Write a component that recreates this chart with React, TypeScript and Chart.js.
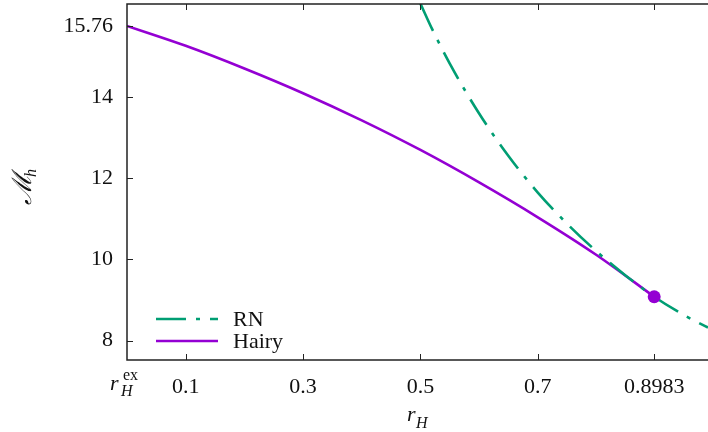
import React, { useEffect, useRef } from 'react';
import { Chart, registerables } from 'chart.js';
Chart.register(...registerables);

const hairyR = [0, 0.1, 0.2, 0.3, 0.4, 0.5, 0.6, 0.7, 0.8, 0.8983];
const hairyM = [15.76, 15.27, 14.71, 14.1, 13.43, 12.7, 11.9, 11.04, 10.11, 9.08];
const rnR = [0.5, 0.52, 0.55, 0.6, 0.65, 0.7, 0.75, 0.8, 0.85, 0.8983, 0.95, 0.99];
const rnM = [16.31, 15.68, 14.83, 13.6, 12.55, 11.65, 10.88, 10.2, 9.6, 9.08, 8.62, 8.32];
const endR = [0.8983];
const endM = [9.08];
const xTicks = [0, 0.1, 0.3, 0.5, 0.7, 0.8983];
const xTickLabels = ['', '0.1', '0.3', '0.5', '0.7', '0.8983'];
const yTicks = [8, 10, 12, 14, 15.76];
const yTickLabels = ['8', '10', '12', '14', '15.76'];
const seriesNames = ['RN', 'Hairy'];

const GREEN = '#009e73';
const PURPLE = '#9400d3';
const AXIS = '#222222';
const FONT = 'Liberation Serif';
const DASH = [30, 10, 4, 10];

export default function App() {
  const ref = useRef<HTMLCanvasElement>(null);
  useEffect(() => {
    const canvas = ref.current!;
    const decor = {
      id: 'decor',
      afterDraw(chart: any) {
        const ctx = chart.ctx as CanvasRenderingContext2D;
        const { left, right, top, bottom } = chart.chartArea;
        const xs = chart.scales.x;
        const ys = chart.scales.y;
        ctx.save();
        // frame
        ctx.strokeStyle = AXIS;
        ctx.lineWidth = 1.5;
        ctx.setLineDash([]);
        ctx.beginPath();
        ctx.moveTo(right, top);
        ctx.lineTo(left, top);
        ctx.lineTo(left, bottom);
        ctx.lineTo(right, bottom);
        ctx.stroke();
        // ticks
        ctx.lineWidth = 1;
        ctx.beginPath();
        xTicks.forEach((v) => {
          if (v === 0) return;
          const px = Math.round(xs.getPixelForValue(v)) + 0.5;
          ctx.moveTo(px, bottom);
          ctx.lineTo(px, bottom - 6);
          ctx.moveTo(px, top);
          ctx.lineTo(px, top + 6);
        });
        yTicks.forEach((v) => {
          const py = Math.round(ys.getPixelForValue(v)) + 0.5;
          ctx.moveTo(left, py);
          ctx.lineTo(left + 6, py);
        });
        ctx.stroke();
        // legend
        const lx0 = 156, lx1 = 218;
        const rows = [
          { y: 319, color: GREEN, dash: DASH, name: seriesNames[0] },
          { y: 341, color: PURPLE, dash: [], name: seriesNames[1] },
        ];
        rows.forEach((r) => {
          ctx.strokeStyle = r.color;
          ctx.lineWidth = 2.6;
          ctx.setLineDash(r.dash);
          ctx.beginPath();
          ctx.moveTo(lx0, r.y);
          ctx.lineTo(lx1, r.y);
          ctx.stroke();
          ctx.setLineDash([]);
          ctx.fillStyle = '#111';
          ctx.font = `22px "${FONT}"`;
          ctx.textAlign = 'left';
          ctx.textBaseline = 'middle';
          ctx.fillText(r.name, 233, r.y + 1);
        });
        // r_H^ex tick label at x = 0
        ctx.fillStyle = '#111';
        ctx.textBaseline = 'alphabetic';
        ctx.textAlign = 'left';
        ctx.font = `italic 22px "${FONT}"`;
        ctx.fillText('r', 110, 390);
        ctx.font = `italic 16px "${FONT}"`;
        ctx.fillText('H', 121, 396);
        ctx.font = `16px "${FONT}"`;
        ctx.fillText('ex', 123, 380);
        // x axis title r_H
        ctx.font = `italic 22px "${FONT}"`;
        ctx.fillText('r', 407, 421);
        ctx.font = `italic 16px "${FONT}"`;
        ctx.fillText('H', 416, 428);
        // y axis title M_h (rotated)
        ctx.translate(31, 185);
        ctx.rotate(-Math.PI / 2);
        ctx.font = `italic 27px "DejaVu Serif"`;
        ctx.textAlign = 'left';
        ctx.fillText('\u2133', -20, 0);
        ctx.font = `italic 16px "${FONT}"`;
        ctx.fillText('h', 8, 5);
        ctx.restore();
      },
    };
    const zeroPad = (s: any) => {
      s.paddingTop = 0;
      s.paddingBottom = 0;
      s.paddingLeft = 0;
      s.paddingRight = 0;
    };
    const chart = new Chart(canvas, {
      type: 'scatter',
      data: {
        datasets: [
          {
            label: 'end',
            data: endR.map((r, i) => ({ x: r, y: endM[i] })),
            showLine: false,
            pointRadius: 6.5,
            pointBackgroundColor: PURPLE,
            pointBorderWidth: 0,
          },
          {
            label: seriesNames[0],
            data: rnR.map((r, i) => ({ x: r, y: rnM[i] })),
            showLine: true,
            borderColor: GREEN,
            borderWidth: 2.6,
            borderDash: DASH,
            pointRadius: 0,
            cubicInterpolationMode: 'monotone',
            fill: false,
          },
          {
            label: seriesNames[1],
            data: hairyR.map((r, i) => ({ x: r, y: hairyM[i] })),
            showLine: true,
            borderColor: PURPLE,
            borderWidth: 2.6,
            pointRadius: 0,
            cubicInterpolationMode: 'monotone',
            fill: false,
          },
        ],
      },
      options: {
        animation: false,
        responsive: false,
        maintainAspectRatio: false,
        layout: { autoPadding: false, padding: { top: 4, left: 0, right: 0, bottom: 0 } },
        plugins: { legend: { display: false }, tooltip: { enabled: false } },
        scales: {
          x: {
            type: 'linear',
            min: 0,
            max: 0.99,
            afterBuildTicks: (s: any) => {
              s.ticks = xTicks.map((v) => ({ value: v }));
            },
            afterFit: (s: any) => {
              s.height = 72;
              zeroPad(s);
            },
            grid: { display: false, drawTicks: false },
            border: { display: false },
            ticks: {
              autoSkip: false,
              maxRotation: 0,
              minRotation: 0,
              padding: 14,
              color: '#111',
              font: { family: FONT, size: 22 },
              callback: (v: any) => xTickLabels[xTicks.indexOf(Number(v))] ?? '',
            },
          },
          y: {
            type: 'linear',
            min: 7.52,
            max: 16.3,
            afterBuildTicks: (s: any) => {
              s.ticks = yTicks.map((v) => ({ value: v }));
            },
            afterFit: (s: any) => {
              s.width = 127;
              zeroPad(s);
            },
            grid: { display: false, drawTicks: false },
            border: { display: false },
            ticks: {
              autoSkip: false,
              padding: 14,
              color: '#111',
              font: { family: FONT, size: 22 },
              callback: (v: any) => yTickLabels[yTicks.indexOf(Number(v))] ?? '',
            },
          },
        },
      },
      plugins: [decor],
    } as any);
    return () => chart.destroy();
  }, []);
  return (
    <canvas
      ref={ref}
      width={708}
      height={432}
      style={{ position: 'absolute', left: 0, top: 0, width: 708, height: 432 }}
    />
  );
}
